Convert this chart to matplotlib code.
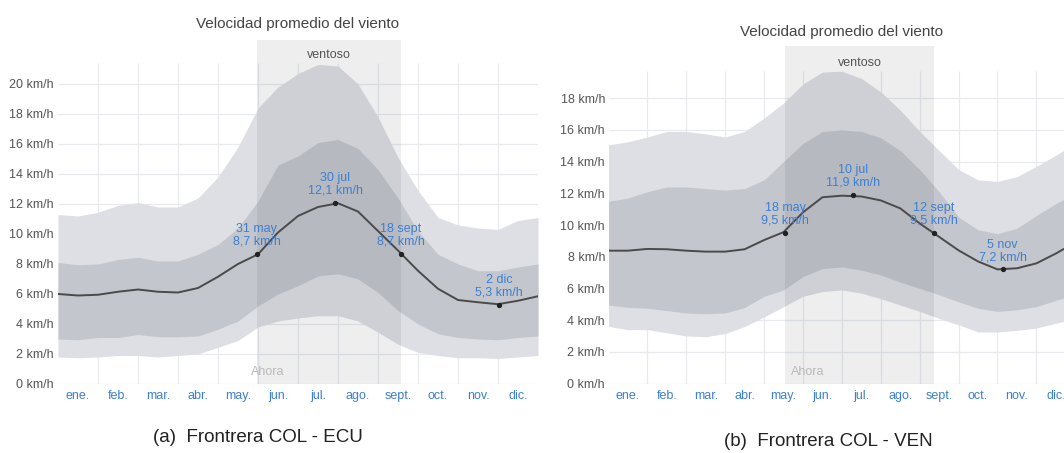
import matplotlib
matplotlib.use('Agg')
import matplotlib.pyplot as plt

plt.rcParams['font.family'] = ['Liberation Sans', 'DejaVu Sans']

# ---------------- data ----------------
month_labels = ['ene.', 'feb.', 'mar.', 'abr.', 'may.', 'jun.',
                'jul.', 'ago.', 'sept.', 'oct.', 'nov.', 'dic.']
days_in_month = [31, 28, 31, 30, 31, 30, 31, 31, 30, 31, 30, 31]

# sample positions (in months since 1 Jan)
months = [0, 0.5, 1, 1.5, 2, 2.5, 3, 3.5, 4, 4.5, 5, 5.5, 6,
          6.5, 7, 7.5, 8, 8.5, 9, 9.5, 10, 10.5, 11, 11.5, 12]

# Panel (a) Frontera COL - ECU
a_mean = [6.0, 5.9, 5.95, 6.15, 6.3, 6.15, 6.1, 6.4, 7.15, 8.0, 8.65, 10.1, 11.2,
          11.8, 12.05, 11.5, 10.2, 8.9, 7.55, 6.35, 5.6, 5.45, 5.32, 5.55, 5.85]
a_p25 = [3.0, 2.95, 3.1, 3.1, 3.3, 3.15, 3.15, 3.2, 3.65, 4.2, 5.2, 6.0, 6.55,
         7.2, 7.35, 7.0, 6.1, 4.9, 4.0, 3.35, 3.1, 3.0, 2.95, 3.1, 3.2]
a_p75 = [8.1, 7.95, 8.0, 8.3, 8.45, 8.2, 8.2, 8.65, 9.3, 10.4, 12.2, 14.6, 15.2,
         16.1, 16.3, 15.7, 14.3, 12.4, 10.2, 8.65, 8.0, 7.55, 7.55, 7.8, 8.0]
a_p10 = [1.8, 1.75, 1.8, 1.9, 1.9, 1.8, 1.9, 2.0, 2.45, 2.9, 3.8, 4.2, 4.4,
         4.55, 4.55, 4.2, 3.45, 2.65, 2.1, 1.9, 1.75, 1.75, 1.7, 1.8, 1.9]
a_p90 = [11.3, 11.2, 11.45, 11.9, 12.1, 11.8, 11.8, 12.4, 13.8, 15.8, 18.4, 19.8, 20.7,
         21.3, 21.2, 20.0, 17.8, 15.1, 12.9, 11.1, 10.6, 10.4, 10.3, 10.9, 11.1]
a_mark_dates = [(4, 31), (6, 30), (8, 18), (11, 2)]
a_mark_values = [8.7, 12.1, 8.7, 5.3]
a_mark_labels = ['31 may\n8,7 km/h', '30 jul\n12,1 km/h', '18 sept\n8,7 km/h', '2 dic\n5,3 km/h']
a_windy = [(4, 31), (8, 18)]
a_yticks = [0, 2, 4, 6, 8, 10, 12, 14, 16, 18, 20]

# Panel (b) Frontera COL - VEN
b_mean = [8.38, 8.38, 8.49, 8.47, 8.38, 8.32, 8.32, 8.47, 9.05, 9.55, 10.8, 11.75, 11.85,
          11.8, 11.55, 11.05, 10.1, 9.25, 8.4, 7.7, 7.2, 7.27, 7.58, 8.2, 8.9]
b_p25 = [4.95, 4.8, 4.75, 4.6, 4.45, 4.4, 4.45, 4.8, 5.5, 5.9, 6.75, 7.25, 7.35,
         7.15, 6.85, 6.4, 6.0, 5.6, 5.15, 4.75, 4.55, 4.65, 4.85, 5.25, 5.6]
b_p75 = [11.5, 11.7, 12.1, 12.4, 12.4, 12.3, 12.2, 12.3, 12.85, 14.0, 15.15, 15.9, 16.0,
         15.9, 15.5, 14.7, 13.5, 12.1, 10.5, 9.7, 9.45, 9.8, 10.6, 11.35, 12.0]
b_p10 = [3.6, 3.4, 3.4, 3.2, 3.0, 2.95, 3.15, 3.6, 4.2, 4.85, 5.5, 5.8, 5.9,
         5.7, 5.35, 4.95, 4.55, 4.1, 3.7, 3.25, 3.25, 3.35, 3.5, 3.8, 4.1]
b_p90 = [15.05, 15.25, 15.55, 15.9, 15.9, 15.75, 15.55, 15.9, 16.75, 17.7, 18.9, 19.65, 19.7,
         19.25, 18.4, 17.25, 15.9, 14.7, 13.5, 12.85, 12.75, 13.05, 13.7, 14.4, 15.15]
b_mark_dates = [(4, 18), (6, 10), (8, 12), (10, 5)]
b_mark_values = [9.5, 11.9, 9.5, 7.2]
b_mark_labels = ['18 may\n9,5 km/h', '10 jul\n11,9 km/h', '12 sept\n9,5 km/h', '5 nov\n7,2 km/h']
b_windy = [(4, 18), (8, 12)]
b_yticks = [0, 2, 4, 6, 8, 10, 12, 14, 16, 18]

title = 'Velocidad promedio del viento'
captions = ['(a)  Frontrera COL - ECU', '(b)  Frontrera COL - VEN']

# ---------------- styles ----------------
C_OUTER = '#dddfe4'
C_INNER = '#c3c6cc'
C_LINE = '#4a4a4a'
C_GRID = '#e8eaee'
C_BLUE = '#3e7fd2'
C_TICK = '#555555'
C_TITLE = '#444444'
W, H = 1064, 453


def date_to_month(md):
    m, d = md
    return m + (d - 1) / days_in_month[m]


def panel(fig, left_px, right_px, zero_px, top_px, px_per_unit, grid_top_px,
          mean, p25, p75, p10, p90, mdates, mvals, mlabels, windy, yticks,
          title_y, ahora_xy, ylab_pad):
    ax = fig.add_axes([left_px / W, (H - zero_px) / H,
                       (right_px - left_px) / W, (zero_px - top_px) / H])
    ymax = (zero_px - top_px) / px_per_unit
    gtop = (zero_px - grid_top_px) / px_per_unit
    ax.set_xlim(0, 12)
    ax.set_ylim(0, ymax)
    for s in ax.spines.values():
        s.set_visible(False)
    # grid
    ax.vlines(range(1, 12), 0, gtop, color=C_GRID, lw=0.9, zorder=1)
    ax.hlines(yticks, 0, 12, color=C_GRID, lw=0.9, zorder=1)
    # bands
    ax.fill_between(months, p10, p90, color=C_OUTER, lw=0, zorder=2)
    ax.fill_between(months, p25, p75, color=C_INNER, lw=0, zorder=2.1)
    ax.plot(months, mean, color=C_LINE, lw=1.4, zorder=4)
    # windy season
    w0, w1 = date_to_month(windy[0]), date_to_month(windy[1])
    ax.axvspan(w0, w1, color='#1c2333', alpha=0.075, lw=0, zorder=3)
    ax.text((w0 + w1) / 2, title_y[1], 'ventoso', ha='center', va='center',
            fontsize=9, color='#555555', zorder=5)
    ax.text(6, title_y[0], title, ha='center', va='center', fontsize=11,
            color=C_TITLE, zorder=5, clip_on=False)
    # markers + labels
    mx = [date_to_month(d) for d in mdates]
    ax.plot(mx, mvals, 'o', ms=2.8, color='#222222', zorder=6)
    for x, v, t in zip(mx, mvals, mlabels):
        ax.annotate(t, (x, v), xytext=(0, 4.5), textcoords='offset points',
                    ha='center', va='bottom', fontsize=9, color=C_BLUE,
                    linespacing=1.05, zorder=7)
    ax.text(ahora_xy[0], ahora_xy[1], 'Ahora', ha='center', va='center',
            fontsize=9, color='#b9b9b9', zorder=5)
    # ticks
    ax.set_yticks(yticks)
    ax.set_yticklabels([f'{v} km/h' for v in yticks], fontsize=9, color=C_TICK)
    ax.set_xticks([i + 0.5 for i in range(12)])
    ax.set_xticklabels(month_labels, fontsize=9, color=C_BLUE)
    ax.tick_params(axis='both', length=0)
    ax.tick_params(axis='y', pad=ylab_pad)
    ax.tick_params(axis='x', pad=4.5)
    return ax


fig = plt.figure(figsize=(W / 100, H / 100), dpi=100)
fig.patch.set_facecolor('white')

ax_a = panel(fig, 58, 538, 384, 40, 15.0, 63,
             a_mean, a_p25, a_p75, a_p10, a_p90,
             a_mark_dates, a_mark_values, a_mark_labels, a_windy, a_yticks,
             title_y=((384 - 24) / 15.0, (384 - 55) / 15.0),
             ahora_xy=(5.25, 0.8), ylab_pad=3.5)
ax_b = panel(fig, 608.5, 1075.3, 383.5, 46, 15.85, 71,
             b_mean, b_p25, b_p75, b_p10, b_p90,
             b_mark_dates, b_mark_values, b_mark_labels, b_windy, b_yticks,
             title_y=((383.5 - 32) / 15.85, (383.5 - 63) / 15.85),
             ahora_xy=(5.13, 0.73), ylab_pad=2.5)

fig.text(258 / W, 1 - 438 / H, captions[0], ha='center', va='center',
         fontsize=13.5, color='#222222')
fig.text(828 / W, 1 - 441 / H, captions[1], ha='center', va='center',
         fontsize=13.5, color='#222222')

fig.savefig('out.png', dpi=100, facecolor='white')
